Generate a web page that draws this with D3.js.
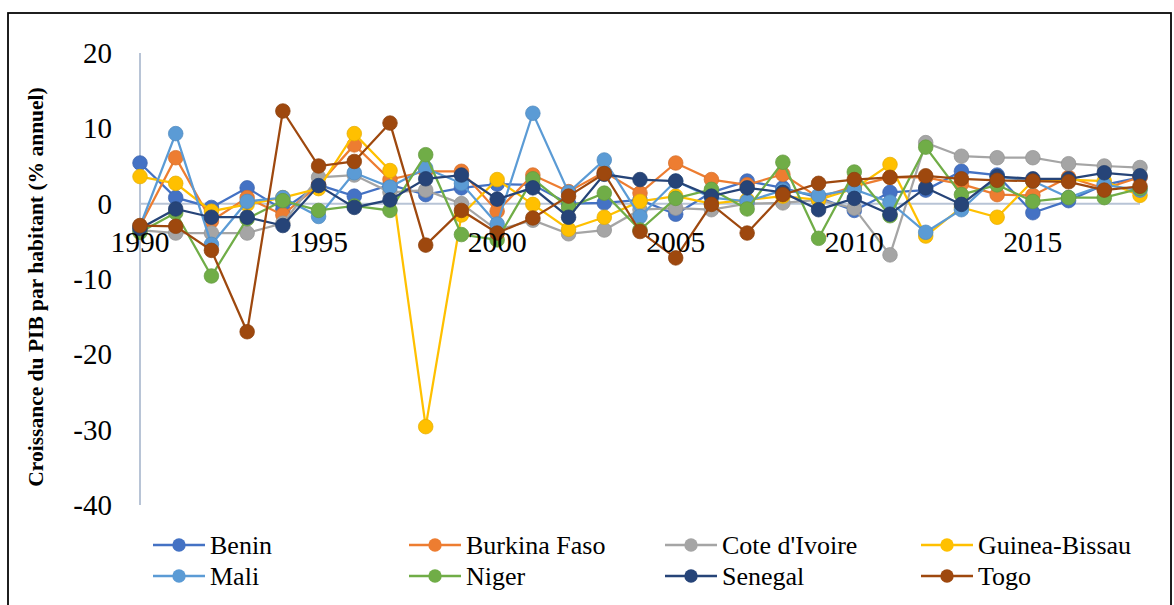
<!DOCTYPE html>
<html>
<head>
<meta charset="utf-8">
<script src="https://cdn.jsdelivr.net/npm/d3@7"></script>
<style>
  body { margin: 0; background: #fff; }
</style>
</head>
<body>
<script>
//Data
var years = d3.range(1990, 2019);
var yearLabels = [1990, 1995, 2000, 2005, 2010, 2015];
var yTicks = [-40, -30, -20, -10, 0, 10, 20];
var countries = ["Benin", "Burkina Faso", "Cote d'Ivoire", "Guinea-Bissau", "Mali", "Niger", "Senegal", "Togo"];
var colors = ["#4472C4", "#ED7D31", "#A5A5A5", "#FFC000", "#5B9BD5", "#70AD47", "#264478", "#9E480E"];

var benin = [5.4, 0.8, -0.5, 2.1, -0.8, 2.5, 1.0, 2.5, 1.2, 2.1, 2.6, 2.5, 0.0, 0.1, 0.5, -1.4, 1.5, 3.0, 2.1, 0.8, -0.9, 1.5, 1.8, 4.3, 3.8, -1.2, 0.4, 2.5, 3.5];
var burkina = [-3.0, 6.1, -2.3, 0.8, -1.5, 2.5, 7.8, 3.2, 4.3, 4.3, -1.0, 3.8, 1.6, 4.2, 1.4, 5.4, 3.2, 2.5, 3.9, 0.8, 2.3, 3.5, 3.5, 2.6, 1.2, 1.1, 3.5, 2.0, 3.5];
var coteIvoire = [-3.5, -3.9, -3.9, -3.9, -2.6, 3.5, 3.8, 1.5, 1.8, 0.0, -3.5, -2.2, -4.0, -3.5, -0.8, -0.6, -0.8, 0.0, 0.1, 0.5, -0.6, -6.8, 8.1, 6.3, 6.1, 6.1, 5.3, 5.0, 4.8];
var guineaBissau = [3.6, 2.7, -1.0, -0.1, 0.8, 2.0, 9.3, 4.4, -29.6, -1.5, 3.2, -0.1, -3.4, -1.8, 0.3, 1.0, 0.0, 0.5, 1.0, 0.5, 2.0, 5.2, -4.3, -0.5, -1.8, 3.0, 3.2, 3.0, 1.1];
var mali = [-3.0, 9.3, -5.4, 0.3, 0.8, -1.7, 4.1, 2.2, 4.7, 2.7, -2.7, 12.0, 1.5, 5.8, -1.7, 3.0, 0.8, 0.3, 1.8, 1.1, 1.9, 0.2, -3.8, -0.8, 3.6, 3.0, 0.8, 2.5, 1.8];
var niger = [-3.8, -1.2, -9.6, -2.0, 0.4, -0.9, -0.3, -0.9, 6.5, -4.1, -4.8, 3.3, -0.5, 1.4, -3.5, 0.7, 1.9, -0.7, 5.5, -4.6, 4.2, -1.6, 7.5, 1.2, 2.5, 0.3, 0.8, 0.8, 2.0];
var senegal = [-3.3, -0.7, -1.8, -1.8, -2.9, 2.4, -0.5, 0.5, 3.3, 3.8, 0.6, 2.1, -1.8, 3.9, 3.2, 3.0, 1.0, 2.1, 1.5, -0.8, 0.7, -1.4, 2.1, -0.1, 3.6, 3.3, 3.3, 4.1, 3.7];
var togo = [-2.9, -3.0, -6.2, -17.0, 12.3, 5.0, 5.6, 10.7, -5.5, -0.9, -3.9, -1.9, 1.0, 4.0, -3.7, -7.2, -0.1, -3.9, 1.2, 2.7, 3.2, 3.5, 3.7, 3.3, 3.1, 3.0, 2.9, 1.8, 2.3];

var series = [benin, burkina, coteIvoire, guineaBissau, mali, niger, senegal, togo];

var width = 1174;
var height = 605;
var margin = {top: 53, bottom: 100, left: 140, right: 34};
var serif = "'Liberation Serif', 'Times New Roman', serif";

//Canvas
var svg = d3.select("body")
              .append("svg")
              .attr("width", width)
              .attr("height", height)
              .style("font-family", serif);

//Outer frame
svg.append("rect")
    .attr("x", 8)
    .attr("y", 13)
    .attr("width", 1163)
    .attr("height", 600)
    .attr("fill", "none")
    .attr("stroke", "#000")
    .attr("stroke-width", 1.75);

//Scales
var xScale = d3.scaleLinear()
               .domain([1990, 2018])
               .range([margin.left, width - margin.right]);

var yScale = d3.scaleLinear()
               .domain([-40, 20])
               .range([505, margin.top]);

//Y axis line
svg.append("line")
    .attr("x1", xScale(1990))
    .attr("x2", xScale(1990))
    .attr("y1", yScale(20))
    .attr("y2", yScale(-40))
    .attr("stroke", "#b8c4d6")
    .attr("stroke-width", 2);

//X axis line at zero
svg.append("line")
    .attr("x1", xScale(1990))
    .attr("x2", xScale(2018))
    .attr("y1", yScale(0))
    .attr("y2", yScale(0))
    .attr("stroke", "#b8c4d6")
    .attr("stroke-width", 2);

//Y tick labels
svg.selectAll("text.ytick")
    .data(yTicks)
    .enter()
    .append("text")
    .attr("class", "ytick")
    .attr("x", 112)
    .attr("y", function(d) { return yScale(d); })
    .attr("dy", "0.35em")
    .attr("text-anchor", "end")
    .style("font-size", "29px")
    .text(function(d) { return d; });

//Y axis label
svg.append("text")
    .text("Croissance du PIB par habitant (% annuel)")
    .attr("transform", "translate(43,287) rotate(270)")
    .attr("text-anchor", "middle")
    .style("font-size", "21.5px")
    .style("font-weight", "bold");

//Lines and markers
var line = d3.line()
             .x(function(d, i) { return xScale(years[i]); })
             .y(function(d) { return yScale(d); });

series.forEach(function(s, k) {
  var g = svg.append("g");

  g.append("path")
    .datum(s)
    .attr("d", line)
    .attr("fill", "none")
    .attr("stroke", colors[k])
    .attr("stroke-width", 2.25);

  g.selectAll("circle")
    .data(s)
    .enter()
    .append("circle")
    .attr("cx", function(d, i) { return xScale(years[i]); })
    .attr("cy", function(d) { return yScale(d); })
    .attr("r", 7.3)
    .attr("fill", colors[k])
    .attr("stroke", d3.color(colors[k]).darker(0.3))
    .attr("stroke-width", 0.75);
});

//X tick labels (drawn on top like the original)
svg.selectAll("text.xtick")
    .data(yearLabels)
    .enter()
    .append("text")
    .attr("class", "xtick")
    .attr("x", function(d) { return xScale(d); })
    .attr("y", 252)
    .attr("text-anchor", "middle")
    .style("font-size", "29.5px")
    .text(function(d) { return d; });

//Legend
var legend = svg.selectAll("g.legend")
    .data(countries)
    .enter()
    .append("g")
    .attr("class", "legend")
    .attr("transform", function(d, i) {
      return "translate(" + (153 + (i % 4) * 256) + "," + (545 + Math.floor(i / 4) * 31) + ")";
    });

legend.append("line")
    .attr("x1", 0)
    .attr("x2", 52)
    .attr("stroke", function(d, i) { return colors[i]; })
    .attr("stroke-width", 2.5);

legend.append("circle")
    .attr("cx", 26)
    .attr("r", 6.7)
    .attr("fill", function(d, i) { return colors[i]; });

legend.append("text")
    .attr("x", 57)
    .attr("dy", "0.35em")
    .style("font-size", "26px")
    .text(function(d) { return d; });
</script>
</body>
</html>
